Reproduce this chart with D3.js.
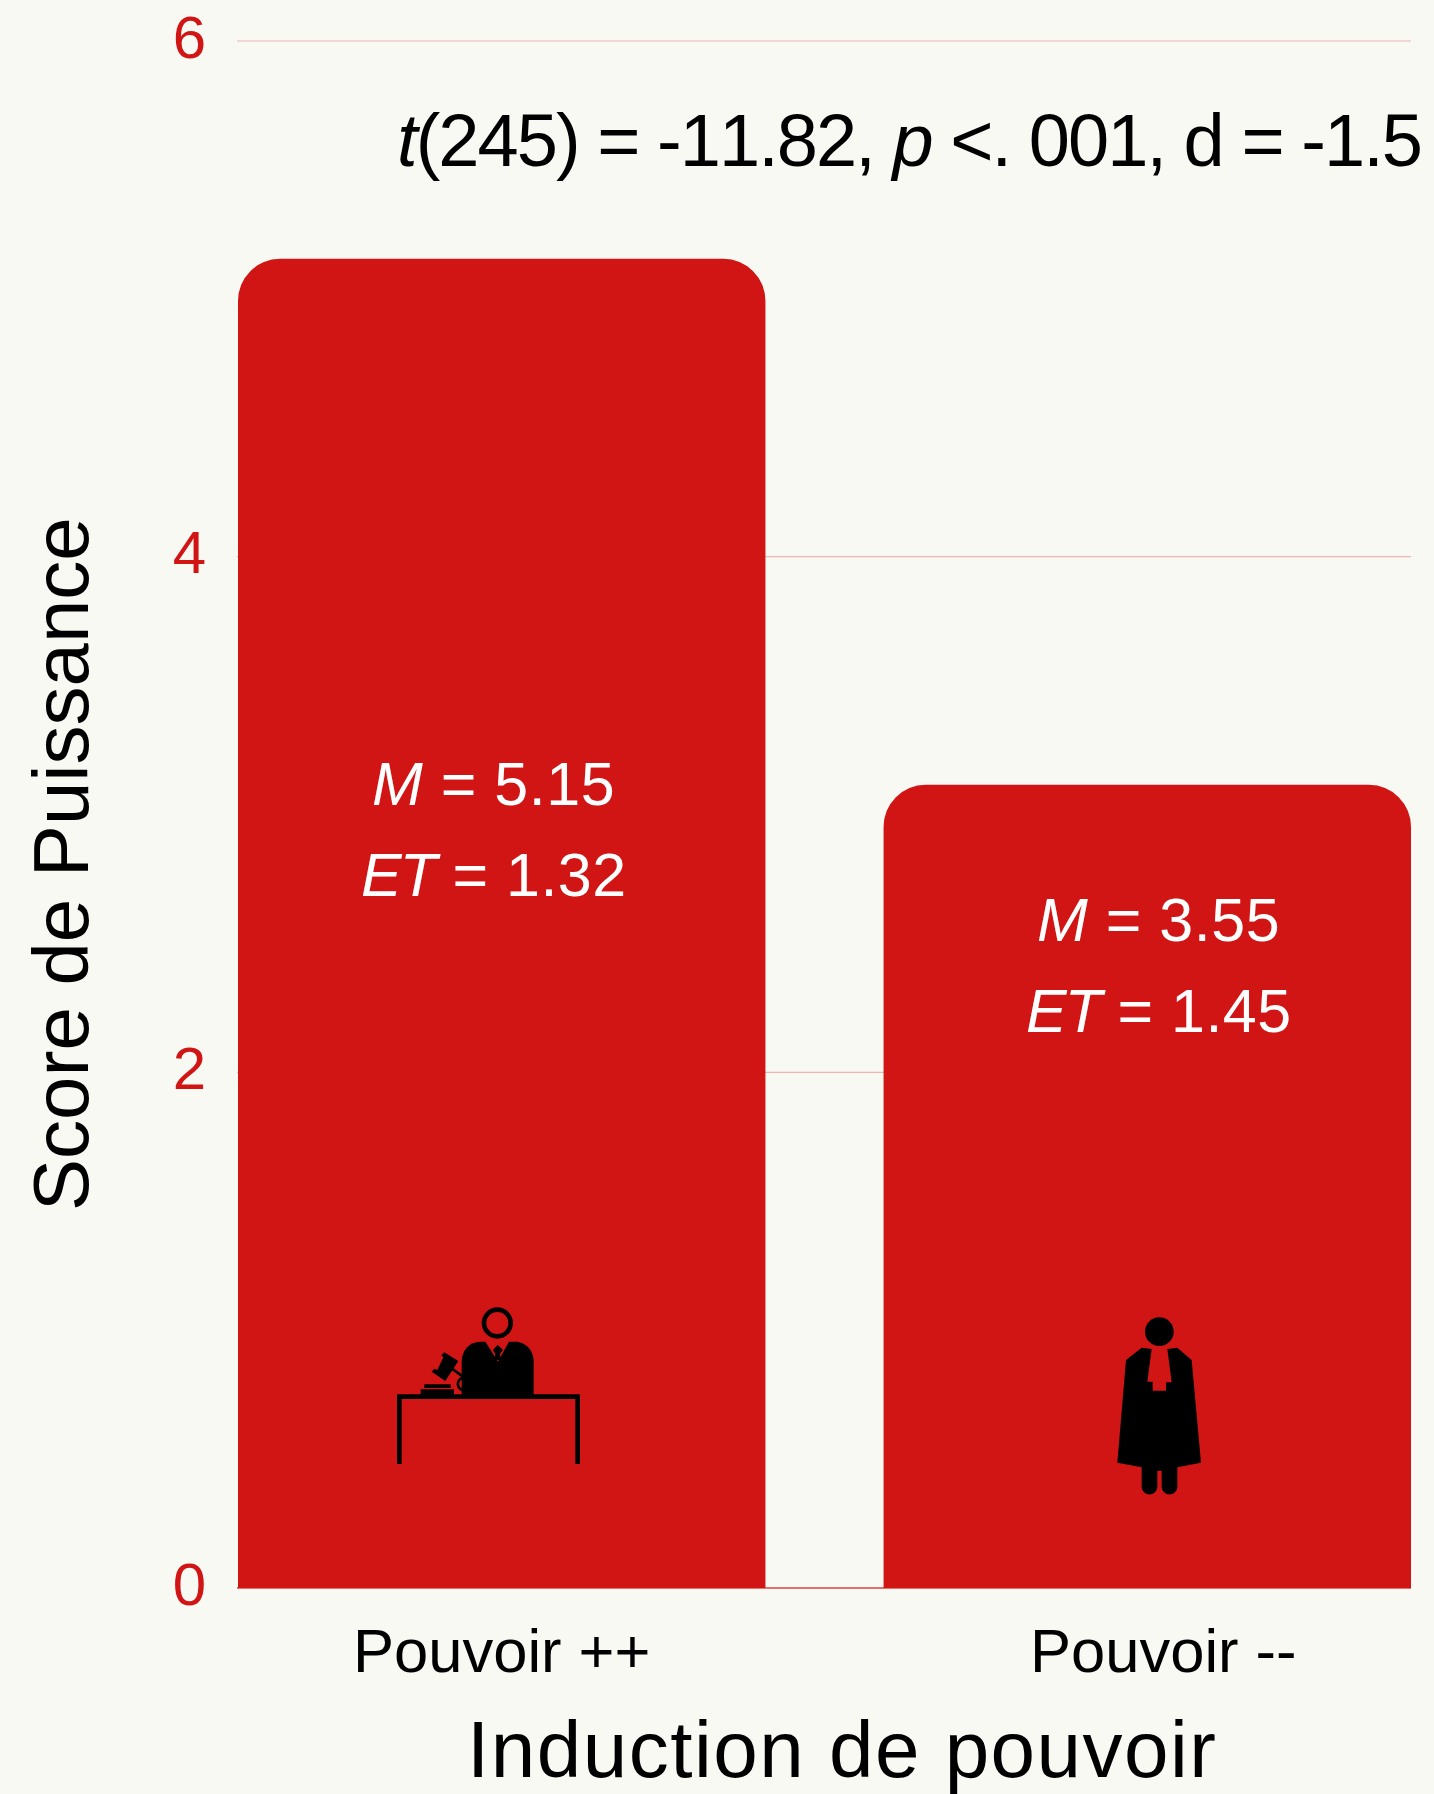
<!DOCTYPE html>
<html>
<head>
<meta charset="utf-8">
<script src="https://cdn.jsdelivr.net/npm/d3@7"></script>
<style>
html, body { margin: 0; padding: 0; background: #f8f9f3; }
svg { display: block; }
text { font-family: "Liberation Sans", sans-serif; }
</style>
</head>
<body>
<svg id="chart" width="1434" height="1794"></svg>
<script>
var categories = ["Pouvoir ++", "Pouvoir --"];
// bar heights as drawn in the picture (second one is lower than its printed mean)
var barValues = [5.155, 3.115];
var yTicks = [0, 2, 4, 6];
var meanLabels = ["5.15", "3.55"];
var sdLabels = ["1.32", "1.45"];

var red = "#d11515";
var svg = d3.select("#chart");

var y = d3.scaleLinear().domain([0, 6]).range([1588, 41]);
var x = d3.scaleBand().domain(categories).range([238, 1411]).paddingInner(0.183);

// gridlines
svg.append("g").selectAll("line")
    .data(yTicks)
    .enter().append("line")
    .attr("x1", 237)
    .attr("x2", 1411)
    .attr("y1", function(d) { return y(d); })
    .attr("y2", function(d) { return y(d); })
    .attr("stroke", function(d) { return d === 0 ? "#e86f6f" : "#eeb4b0"; })
    .attr("stroke-width", function(d) { return d === 0 ? 2 : 1.2; });

// bars, rounded on top only
function barPath(d, i) {
    var r = 42, x0 = x(categories[i]), x1 = x0 + x.bandwidth(), top = y(d), bottom = y(0);
    var p = d3.path();
    p.moveTo(x0, bottom);
    p.lineTo(x0, top + r);
    p.arcTo(x0, top, x0 + r, top, r);
    p.lineTo(x1 - r, top);
    p.arcTo(x1, top, x1, top + r, r);
    p.lineTo(x1, bottom);
    p.closePath();
    return p.toString();
}
svg.append("g").selectAll("path")
    .data(barValues)
    .enter().append("path")
    .attr("d", barPath)
    .attr("fill", red);

// y axis
var yAxis = svg.append("g")
    .attr("transform", "translate(206,0)")
    .call(d3.axisLeft(y).tickValues(yTicks).tickFormat(d3.format("d")).tickSize(0).tickPadding(0));
yAxis.select(".domain").remove();
yAxis.selectAll("text")
    .attr("font-size", 60)
    .attr("fill", red)
    .attr("text-anchor", "end")
    .attr("dy", 0)
    .attr("y", 16)
    .style("font-family", '"Liberation Sans", sans-serif');

// x axis
var labelShift = [0, 16];
var xAxis = svg.append("g")
    .attr("transform", "translate(0,1588)")
    .call(d3.axisBottom(x).tickSize(0).tickPadding(0));
xAxis.select(".domain").remove();
xAxis.selectAll("text")
    .attr("font-size", 61.5)
    .attr("fill", "#000")
    .attr("dy", 0)
    .attr("y", 84)
    .attr("x", function(d, i) { return labelShift[i]; })
    .style("font-family", '"Liberation Sans", sans-serif');

// axis titles
svg.append("text")
    .attr("transform", "translate(88,1211) rotate(-90)")
    .attr("font-size", 78)
    .text("Score de Puissance");

svg.append("text")
    .attr("x", 467)
    .attr("y", 1777)
    .attr("font-size", 80)
    .attr("letter-spacing", 1.5)
    .text("Induction de pouvoir");

// statistics line
var stat = svg.append("text")
    .attr("x", 397)
    .attr("y", 166)
    .attr("font-size", 74)
    .attr("letter-spacing", -1.95)
    .style("font-kerning", "none");
stat.append("tspan").attr("font-style", "italic").text("t");
stat.append("tspan").text("(245) = -11.82, ");
stat.append("tspan").attr("font-style", "italic").text("p");
stat.append("tspan").text(" <. 001, d = -1.5");

// mean / sd labels inside the bars
var labelX = [[372, 361], [1037, 1026]];
var labelY = [[805, 896], [941, 1032]];
categories.forEach(function(c, i) {
    var m = svg.append("text")
        .attr("x", labelX[i][0]).attr("y", labelY[i][0])
        .attr("font-size", 61).attr("letter-spacing", 0.5).attr("fill", "#fff");
    m.append("tspan").attr("font-style", "italic").text("M");
    m.append("tspan").text(" = " + meanLabels[i]);
    var s = svg.append("text")
        .attr("x", labelX[i][1]).attr("y", labelY[i][1])
        .attr("font-size", 61).attr("letter-spacing", 0.5).attr("fill", "#fff");
    s.append("tspan").attr("font-style", "italic").attr("letter-spacing", -2).text("ET");
    s.append("tspan").text(" = " + sdLabels[i]);
});

// judge at the desk
var judge = svg.append("g").attr("transform", "translate(380,1280) scale(0.3333)");
judge.append("circle").attr("cx", 352).attr("cy", 129).attr("r", 40)
    .attr("fill", "none").attr("stroke", "#000").attr("stroke-width", 14);
judge.append("path")
    .attr("d", "M245,345V245C245,210 270,185 300,185H405C438,185 461,212 461,245V345Z")
    .attr("fill", "#000");
judge.append("path").attr("d", "M315,183H388L354,245Z").attr("fill", red);
judge.append("path").attr("d", "M339,210L353,194L369,210L360,222L363,240H343L346,222Z").attr("fill", "#000");
judge.append("path").attr("d", "M51,552V343H600V552H586V357H65V552Z").attr("fill", "#000");
judge.append("path").attr("d", "M122,345V328H222V345Z M133,324V313H212V324Z").attr("fill", "#000");
judge.append("path").attr("d", "M193,217L235,243L196,303L155,275L163,266L172,270L190,232L184,226Z").attr("fill", "#000");
judge.append("path").attr("d", "M215,265L252,292C232,298 225,318 248,332")
    .attr("fill", "none").attr("stroke", "#000").attr("stroke-width", 8);

// lawyer in a robe
var lawyer = svg.append("g").attr("transform", "translate(1090,1300) scale(0.3333)");
lawyer.append("circle").attr("cx", 208).attr("cy", 95).attr("r", 43).attr("fill", "#000");
lawyer.append("path")
    .attr("d", "M108,180L155,143L185,147L172,245H188V272H228V247H245L232,147L262,143L305,180L333,488L262,502V560A23,23 0 0 1 215,560V512H202V560A23,23 0 0 1 155,560V502L82,488Z")
    .attr("fill", "#000");
</script>
</body>
</html>
